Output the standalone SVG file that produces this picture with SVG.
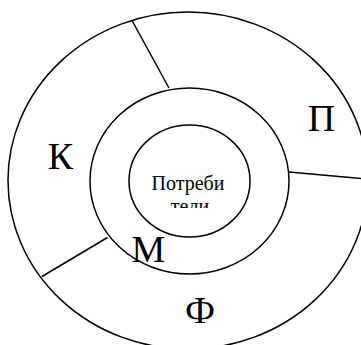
<svg xmlns="http://www.w3.org/2000/svg" width="361" height="345" viewBox="0 0 361 345">
<style>
.ring{fill:none;stroke:#000;stroke-width:1.5}
.ln{stroke:#000;stroke-width:1.5;fill:none}
.big{font-size:38px;fill:#000;text-anchor:middle}
.small{font-size:20px;fill:#000;text-anchor:middle}
</style>
<defs>
<clipPath id="clipText"><rect x="130" y="165" width="120" height="43"/></clipPath>
</defs>
<rect width="361" height="345" fill="#fff"/>
<g id="outer"><ellipse class="ring" cx="188" cy="180.5" rx="180" ry="168.5"/></g>
<g id="middle"><ellipse class="ring" cx="189.5" cy="181" rx="99.5" ry="93"/></g>
<g id="inner"><ellipse class="ring" cx="189.5" cy="181" rx="60.5" ry="56"/>
<g clip-path="url(#clipText)" font-family="'Liberation Serif', 'DejaVu Serif', serif"><text class="small" x="188" y="190">Потреби</text><text class="small" x="190" y="213">тели</text></g></g>
<g id="connectors">
<line class="ln" x1="132" y1="20.5" x2="169" y2="88"/>
<line class="ln" x1="289" y1="172" x2="362" y2="178.5"/>
<line class="ln" x1="107.5" y1="237.5" x2="42" y2="276.5"/>
</g>
<g id="labels" font-family="'Liberation Serif', 'DejaVu Serif', serif">
<text class="big" x="321.5" y="131">П</text>
<text class="big" x="60.5" y="169">К</text>
<text class="big" x="148.5" y="262">М</text>
<text class="big" x="200" y="322.5">Ф</text>
</g>
</svg>
